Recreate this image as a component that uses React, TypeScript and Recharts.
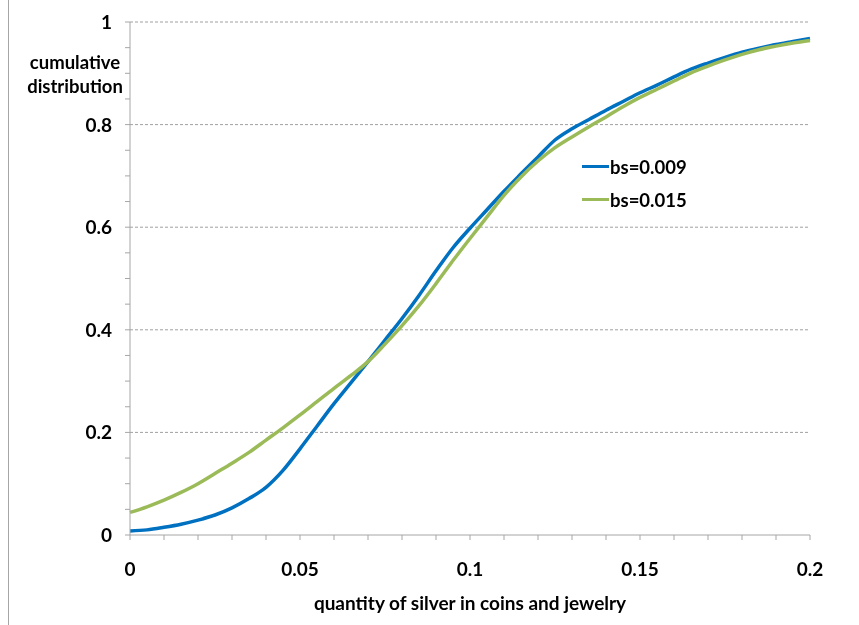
import React from "react";
import { LineChart, Line, XAxis, YAxis, CartesianGrid } from "recharts";

const xValues = [0, 0.005, 0.01, 0.015, 0.02, 0.025, 0.03, 0.035, 0.04, 0.045, 0.05, 0.055, 0.06, 0.065, 0.07, 0.075, 0.08, 0.085, 0.09, 0.095, 0.1, 0.105, 0.11, 0.115, 0.12, 0.125, 0.13, 0.135, 0.14, 0.145, 0.15, 0.155, 0.16, 0.165, 0.17, 0.175, 0.18, 0.185, 0.19, 0.195, 0.2];
const bs009 = [0.008, 0.010, 0.015, 0.021, 0.029, 0.039, 0.053, 0.071, 0.093, 0.126, 0.168, 0.212, 0.256, 0.297, 0.338, 0.38, 0.422, 0.467, 0.515, 0.56, 0.598, 0.634, 0.67, 0.704, 0.737, 0.77, 0.792, 0.81, 0.828, 0.845, 0.862, 0.877, 0.893, 0.908, 0.92, 0.931, 0.941, 0.949, 0.956, 0.962, 0.968];
const bs015 = [0.044, 0.055, 0.068, 0.083, 0.1, 0.12, 0.14, 0.161, 0.185, 0.209, 0.234, 0.26, 0.286, 0.311, 0.338, 0.372, 0.408, 0.447, 0.49, 0.535, 0.578, 0.62, 0.662, 0.698, 0.729, 0.755, 0.776, 0.796, 0.815, 0.835, 0.853, 0.869, 0.885, 0.901, 0.914, 0.926, 0.937, 0.946, 0.953, 0.959, 0.964];

const seriesNames = ["bs=0.009", "bs=0.015"];
const seriesColors = ["#0070C0", "#9BBB59"];

const xTicks = [0, 0.01, 0.02, 0.03, 0.04, 0.05, 0.06, 0.07, 0.08, 0.09, 0.1, 0.11, 0.12, 0.13, 0.14, 0.15, 0.16, 0.17, 0.18, 0.19, 0.2];
const xMajor = [0, 0.05, 0.1, 0.15, 0.2];
const xMajorLabels = ["0", "0.05", "0.1", "0.15", "0.2"];
const yTicks = [0, 0.05, 0.1, 0.15, 0.2, 0.25, 0.3, 0.35, 0.4, 0.45, 0.5, 0.55, 0.6, 0.65, 0.7, 0.75, 0.8, 0.85, 0.9, 0.95, 1];
const yMajor = [0, 0.2, 0.4, 0.6, 0.8, 1];
const yMajorLabels = ["0", "0.2", "0.4", "0.6", "0.8", "1"];
const gridValues = [0.2, 0.4, 0.6, 0.8, 1];

const data = xValues.map((x, i) => ({ x, a: bs009[i], b: bs015[i] }));

const FONT = "Lato, 'Open Sans', sans-serif";
const AXIS = "#A6A6A6";
const FS = 19;

const findIdx = (arr: number[], v: number) => arr.findIndex((m) => Math.abs(m - v) < 1e-9);

const XTick = (props: any) => {
  const { x, y, payload } = props;
  const idx = findIdx(xMajor, payload.value);
  if (idx < 0) return null;
  return (
    <text x={x} y={y + 34} textAnchor="middle" fontFamily={FONT} fontWeight="bold" fontSize={FS} fill="#000">
      {xMajorLabels[idx]}
    </text>
  );
};

const YTick = (props: any) => {
  const { x, y, payload } = props;
  const idx = findIdx(yMajor, payload.value);
  if (idx < 0) return null;
  return (
    <text x={x - 11} y={y + 7} textAnchor="end" fontFamily={FONT} fontWeight="bold" fontSize={FS} fill="#000">
      {yMajorLabels[idx]}
    </text>
  );
};

const YLabel = () => (
  <g>
    <text x={67} y={61} textAnchor="middle" fontFamily={FONT} fontWeight="bold" fontSize={18.5} fill="#000">cumulative</text>
    <text x={67} y={85} textAnchor="middle" fontFamily={FONT} fontWeight="bold" fontSize={18.5} fill="#000">distribution</text>
  </g>
);

const XLabel = () => (
  <text x={462} y={602} textAnchor="middle" fontFamily={FONT} fontWeight="bold" fontSize={FS} fill="#000">
    quantity of silver in coins and jewelry
  </text>
);

const LegendBox = () => (
  <div style={{ position: "absolute", left: 574, top: 142, fontFamily: FONT, fontWeight: "bold", fontSize: 18.5, color: "#000" }}>
    {seriesNames.map((n, i) => (
      <div key={n} style={{ display: "flex", alignItems: "center", height: 33 }}>
        <div style={{ width: 27, height: 3.5, background: seriesColors[i], marginRight: 1 }} />
        <span>{n}</span>
      </div>
    ))}
  </div>
);

export default function App() {
  return (
    <div style={{ position: "relative", width: 851, height: 609 }}>
      <div style={{ position: "fixed", left: 8, top: 0, width: 1, height: 625, background: AXIS }} />
      <LineChart width={851} height={609} data={data} margin={{ top: 14, right: 49, left: 0, bottom: 0 }}>
        <CartesianGrid horizontal={true} vertical={false} horizontalValues={gridValues} stroke="#A0A0A0" strokeDasharray="3 2" />
        <XAxis
          dataKey="x"
          type="number"
          domain={[0, 0.2]}
          ticks={xTicks}
          interval={0}
          height={82}
          tickSize={5}
          stroke={AXIS}
          tick={<XTick />}
          label={{ content: () => <XLabel /> }}
        />
        <YAxis
          type="number"
          domain={[0, 1]}
          ticks={yTicks}
          interval={0}
          width={122}
          tickSize={5}
          stroke={AXIS}
          tick={<YTick />}
          label={{ content: () => <YLabel /> }}
        />
        <Line type="monotone" dataKey="a" name={seriesNames[0]} stroke={seriesColors[0]} strokeWidth={3.5} dot={false} isAnimationActive={false} />
        <Line type="monotone" dataKey="b" name={seriesNames[1]} stroke={seriesColors[1]} strokeWidth={3.5} dot={false} isAnimationActive={false} />
      </LineChart>
      <LegendBox />
    </div>
  );
}
